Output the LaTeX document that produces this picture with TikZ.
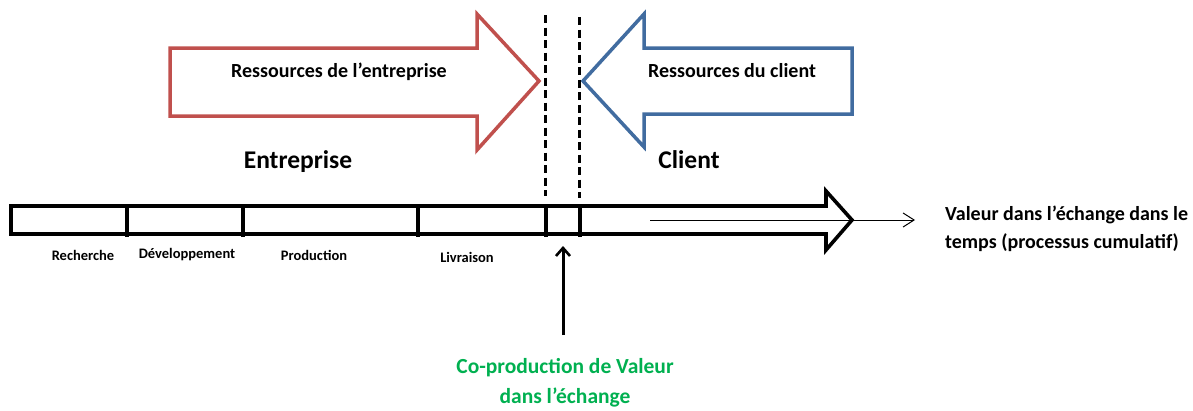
\documentclass[tikz,border=0pt]{standalone}
\usepackage{fontspec}
\setmainfont{Carlito}
\usetikzlibrary{arrows.meta}
\definecolor{redline}{RGB}{192,80,77}
\definecolor{blueline}{RGB}{65,108,160}
\definecolor{greentxt}{RGB}{0,176,80}
\tikzset{
  lbl/.style={font=\bfseries\fontsize{20}{24}\selectfont, inner sep=0pt},
  smalllbl/.style={font=\bfseries\fontsize{14.5}{17}\selectfont, inner sep=0pt},
  biglbl/.style={font=\bfseries\fontsize{25.5}{30}\selectfont, inner sep=0pt},
  sidelbl/.style={font=\bfseries\fontsize{20}{28}\selectfont, inner sep=0pt, align=left},
  greenlbl/.style={font=\bfseries\fontsize{21.5}{30}\selectfont, inner sep=0pt, align=center, text=greentxt},
  divider/.style={line width=3.2pt, line cap=butt},
  sep/.style={line width=3pt, dash pattern=on 8pt off 4.5pt},
}
\begin{document}
\begin{tikzpicture}[x=1pt,y=-1pt]
\useasboundingbox (0,0) rectangle (1193,410);
% red arrow
\draw[redline, line width=3.5pt, line join=miter] (170,48) -- (477,48) -- (477,14) -- (539,81) -- (477,150) -- (477,116) -- (170,116) -- cycle;
\node[lbl] (res1) at (339,72) {Ressources de l’entreprise};
% blue arrow
\draw[blueline, line width=3.5pt, line join=miter] (852,48) -- (644,48) -- (644,14) -- (583,81) -- (644,147) -- (644,114) -- (852,114) -- cycle;
\node[lbl] (res2) at (732,71) {Ressources du client};
% dashed separators
\coordinate (s1t) at (545,15);
\coordinate (s1b) at (545,196);
\coordinate (s2t) at (579,17);
\coordinate (s2b) at (579,198);
\draw[sep] (s1t) -- (s1b);
\draw[sep] (s2t) -- (s2b);
\node[biglbl] (ent) at (298,162) {Entreprise};
\node[biglbl] (cli) at (689,160) {Client};
% timeline
\draw[line width=3.6pt, line join=miter] (11,206) -- (826,206) -- (826,191) -- (852,220) -- (826,250) -- (826,234) -- (11,234) -- cycle;
\foreach \xx/\nm in {127/d1,243/d2,418/d3,546/d4,580/d5}{
  \coordinate (\nm t) at (\xx,206);
  \coordinate (\nm b) at (\xx,237);
  \draw[divider] (\nm t) -- (\nm b);
}
\node[smalllbl] (rech) at (83,255) {Recherche};
\node[smalllbl] (dev) at (187,255) {Développement};
\node[smalllbl] (prod) at (314,255) {Production};
\node[smalllbl] (liv) at (467,257) {Livraison};
% thin arrow
\coordinate (ta) at (650,220);
\coordinate (tb) at (915,220);
\draw[line width=1pt, -{Straight Barb[length=11pt,width=14pt,line width=1pt]}] (ta) -- (tb);
\node[sidelbl, anchor=west] (val) at (945,229) {Valeur dans l’échange dans le\\temps (processus cumulatif)};
% up arrow
\node[greenlbl] (cop) at (565,383) {Co-production de Valeur\\dans l’échange};
\coordinate (ua) at (563,335);
\coordinate (ub) at (563,246);
\draw[line width=3pt, -{Straight Barb[length=8pt,width=14pt,line width=2.6pt]}] (ua) -- (ub);
\end{tikzpicture}
\end{document}
